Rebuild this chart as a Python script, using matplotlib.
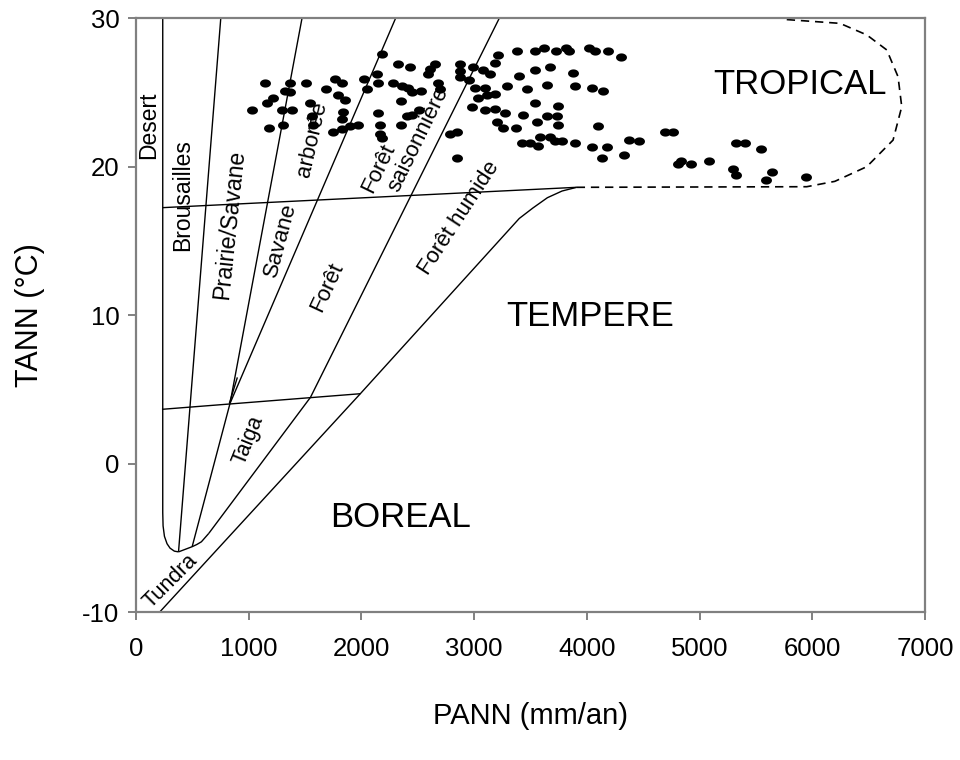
import matplotlib
matplotlib.use("Agg")
import matplotlib.pyplot as plt
import numpy as np
from matplotlib.path import Path

plt.rcParams['font.family'] = ['Liberation Sans', 'DejaVu Sans']
plt.rcParams['axes.unicode_minus'] = False

# ---- data -----------------------------------------------------------------
# scattered sites (PANN mm/an, TANN degC)
site_pann = [1145, 1366, 1508, 1322, 1366, 1766, 1825, 2023, 2047, 1686,
             1218, 1160, 1027, 1293, 1382, 1544, 1795, 1854, 1839, 1825,
             1559, 1573, 1183, 1302, 1751, 1825, 1899, 1972,
             2180, 2327, 2431, 2653, 2609, 2594, 2682, 2697, 2136, 2150,
             2283, 2358, 2416, 2446, 2526, 2351, 2150, 2402, 2446, 2514,
             2165, 2351, 2180, 2875, 2993, 2875, 2875, 2957, 3008, 3037,
             2979, 2786, 2846, 2846,
             3215, 3185, 3378, 3540, 3620, 3727, 3815, 3845, 4022, 4073,
             4185, 3673, 3540, 3401, 3880, 3141, 3082, 3289, 3467, 3644,
             3895, 4043, 4146, 3097, 3185, 3112, 3540, 3747, 3097, 3185,
             3274, 3437, 3644, 3733, 3747, 3555, 3200, 3259, 3372, 4102,
             3585, 3422, 3496, 3570, 3673, 3718, 3777, 3895, 4043, 4177,
             4301, 4132, 4330, 4377, 4466, 4694, 4767, 4812, 4833, 4922, 5087,
             5324, 5404, 5543, 5300, 5324, 5590, 5641, 5945,
             2165]
site_tann = [25.6, 25.6, 25.6, 25.1, 25.0, 25.9, 25.6, 25.9, 25.2, 25.2,
             24.6, 24.3, 23.8, 23.8, 23.8, 24.3, 24.8, 24.5, 23.7, 23.2,
             23.4, 22.8, 22.6, 22.8, 22.3, 22.5, 22.7, 22.8,
             27.6, 26.9, 26.7, 26.9, 26.6, 26.2, 25.6, 25.2, 26.2, 25.6,
             25.6, 25.4, 25.3, 25.0, 25.1, 24.4, 23.6, 23.4, 23.5, 23.8,
             22.8, 22.8, 21.9, 26.9, 26.7, 26.4, 26.0, 25.8, 25.3, 24.6,
             24.0, 22.2, 22.3, 20.6,
             27.5, 27.0, 27.8, 27.8, 28.0, 27.8, 28.0, 27.8, 28.0, 27.8,
             27.8, 26.7, 26.5, 26.1, 26.3, 26.2, 26.5, 25.4, 25.2, 25.5,
             25.4, 25.3, 25.1, 25.3, 24.9, 24.8, 24.3, 24.1, 23.8, 23.9,
             23.6, 23.5, 23.4, 23.4, 22.8, 23.0, 23.0, 22.6, 22.6, 22.7,
             22.0, 21.6, 21.6, 21.4, 22.0, 21.7, 21.7, 21.6, 21.3, 21.3,
             27.4, 20.6, 20.8, 21.8, 21.7, 22.3, 22.3, 20.2, 20.4, 20.2, 20.4,
             21.6, 21.6, 21.2, 19.8, 19.4, 19.1, 19.6, 19.3,
             22.2]

# biome boundaries (PANN, TANN)
desert_x = [237, 237, 240, 252, 275, 302, 340, 377]
desert_y = [30, -3.3, -4.2, -4.9, -5.4, -5.7, -5.9, -5.95]
bottom_x = [377, 498, 540, 580, 646]
bottom_y = [-5.95, -5.6, -5.45, -5.27, -4.7]
brous_x = [377, 752]
brous_y = [-5.95, 30]
prairie_x = [498, 834, 1473]
prairie_y = [-5.6, 4.05, 30]
stub_x = [828, 899]
stub_y = [4.05, 5.8]
savane_x = [834, 2304]
savane_y = [4.05, 30]
foret_x = [646, 1548, 3224]
foret_y = [-4.7, 4.46, 30]
boreal_top_x = [230, 1990]
boreal_top_y = [3.65, 4.7]
temp_top_x = [237, 3910]
temp_top_y = [17.23, 18.6]
zone_x = [210, 1990, 3400, 3520, 3650, 3780, 3910]
zone_y = [-10, 4.7, 16.5, 17.2, 17.9, 18.35, 18.6]
trop_x = [3910, 5951, 6200, 6484, 6717, 6794, 6761, 6661, 6484, 6246, 5744]
trop_y = [18.6, 18.64, 19.0, 19.99, 21.78, 24.03, 26.05, 27.85, 28.86, 29.64, 29.91]

x_ticks = [0, 1000, 2000, 3000, 4000, 5000, 6000, 7000]
y_ticks = [-10, 0, 10, 20, 30]

# labels: text, x, y, rotation, size
biome_labels = [
    ("Desert", 115, 22.8, 90, 16.5),
    ("Brousailles", 411, 18.1, 90, 16.5),
    ("Prairie/Savane", 827, 16.06, 84, 16.5),
    ("Savane", 1285, 15.05, 75, 16),
    ("arborée", 1566, 21.8, 77, 16),
    ("Forêt", 1692, 11.9, 65, 16),
    ("Forêt", 2150, 19.9, 64, 16),
    ("saisonnière", 2505, 21.8, 64, 16),
    ("Forêt humide", 2868, 16.5, 57, 16),
    ("Taiga", 996, 1.54, 68, 15.5),
    ("Tundra", 308, -7.96, 45, 15.5),
]
zone_labels = [
    ("TROPICAL", 5892, 25.5),
    ("TEMPERE", 4028, 9.9),
    ("BOREAL", 2351, -3.64),
]

# ---- figure ---------------------------------------------------------------
fig = plt.figure(figsize=(9.6, 7.6), dpi=100)
ax = fig.add_axes([0.1417, 0.1947, 0.8218, 0.7816])

lc = 'black'
lw = 1.0
for xs, ys in [(desert_x, desert_y), (bottom_x, bottom_y), (brous_x, brous_y),
               (prairie_x, prairie_y), (stub_x, stub_y), (savane_x, savane_y),
               (foret_x, foret_y), (boreal_top_x, boreal_top_y),
               (temp_top_x, temp_top_y), (zone_x, zone_y)]:
    ax.plot(xs, ys, color=lc, lw=lw, solid_capstyle='butt')
ax.plot(trop_x, trop_y, color=lc, lw=1.2, linestyle=(0, (5, 3.5)))

# ellipse marker
t = np.linspace(0, 2 * np.pi, 40)
ell = Path(np.column_stack([np.cos(t), 0.75 * np.sin(t)]), closed=True)
ax.scatter(site_pann, site_tann, marker=ell, s=62, color='black',
           linewidths=0, zorder=3)

for txt, x, y, rot, fs in biome_labels:
    ax.text(x, y, txt, rotation=rot, rotation_mode='anchor', ha='center',
            va='center', fontsize=fs)
for txt, x, y in zone_labels:
    ax.text(x, y, txt, ha='center', va='center', fontsize=25)

ax.set_xlim(0, 7000)
ax.set_ylim(-10, 30)
ax.set_xticks(x_ticks)
ax.set_yticks(y_ticks)
for s in ax.spines.values():
    s.set_color('#808080')
    s.set_linewidth(1.6)
ax.tick_params(direction='out', length=6, width=1.4, color='#808080',
               labelsize=18.5, labelcolor='black')
ax.tick_params(axis='x', pad=12)
ax.tick_params(axis='y', pad=6)

ax.set_xlabel('PANN (mm/an)', fontsize=21, va='center')
ax.xaxis.set_label_coords(0.5, -0.175)
ax.set_ylabel('TANN (°C)', fontsize=22, va='center', ha='center')
ax.yaxis.set_label_coords(-0.134, 0.5)

fig.savefig('out.png', dpi=100)
